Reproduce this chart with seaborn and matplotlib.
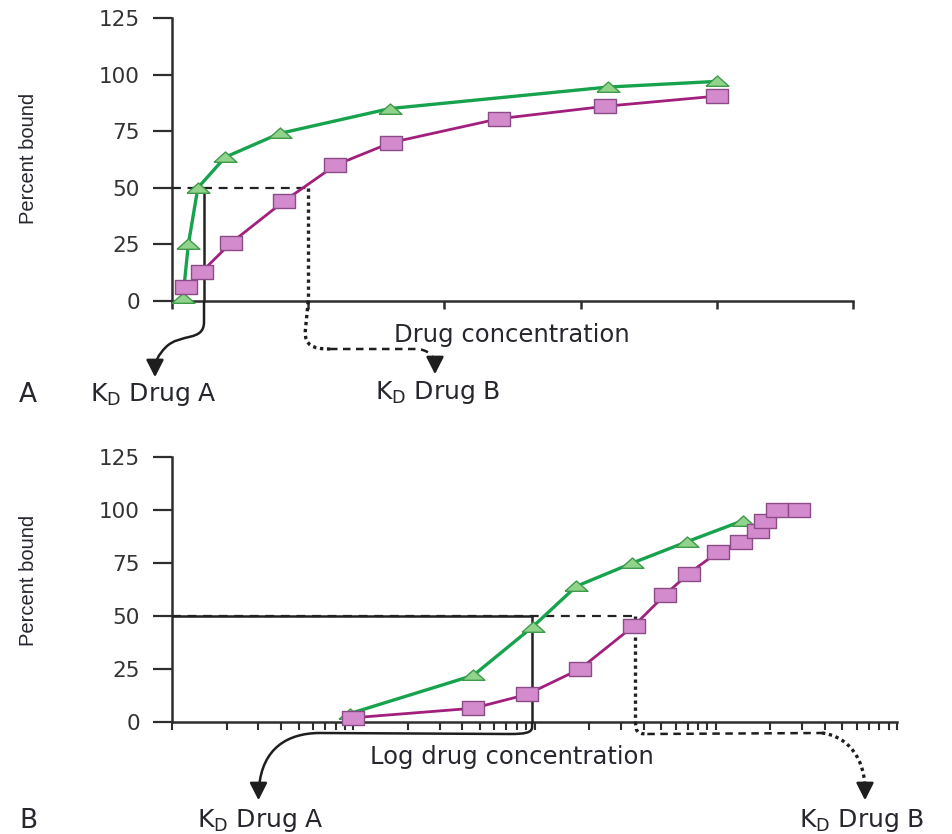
import matplotlib
matplotlib.use("Agg")
import matplotlib.pyplot as plt
import seaborn as sns
import pandas as pd
from matplotlib.path import Path
from matplotlib.patches import FancyArrowPatch, PathPatch
from matplotlib.ticker import LogLocator, NullFormatter, FixedLocator

# ---------------- data ----------------
lin_drug_a_conc = [0.8, 1.2, 1.9, 3.9, 7.9, 16, 32, 40]
lin_drug_a_bound = [1.5, 25, 50, 63.5, 74, 85, 94.5, 97]
lin_drug_b_conc = [1.0, 2.2, 4.3, 8.2, 12, 16.1, 24, 31.8, 40]
lin_drug_b_bound = [6, 13, 25.5, 44, 60, 70, 80.5, 86, 90.5]

log_drug_a_conc = [9.6, 46, 98, 170, 347, 692, 1413]
log_drug_a_bound = [4, 22, 45, 64, 75, 85, 95]
log_drug_b_conc = [10, 46, 91, 178, 355, 525, 708, 1023, 1380, 1700, 1862, 2188, 2884]
log_drug_b_bound = [2, 6.5, 13, 25, 45.5, 60, 70, 80, 85, 90, 95, 100, 100]

kd_lin = [2.35, 10.0]     # K_D drug A, K_D drug B (linear axis units)
kd_log = [97.0, 360.0]    # K_D drug A, K_D drug B (log axis units)
half_bound = 50
y_ticks = [0, 25, 50, 75, 100, 125]
lin_x_ticks = [0, 10, 20, 30, 40, 50]

# ---------------- style ----------------
sns.set_theme(style="ticks")
plt.rcParams["font.family"] = ["DejaVu Sans"]

W, H = 952, 834
fig = plt.figure(figsize=(W / 100, H / 100), dpi=100)
fig.patch.set_facecolor("white")

def fp(x, y):
    return (x / W, 1 - y / H)

GREEN = "#17a34e"
GREEN_FILL = "#8fd48a"
GREEN_EDGE = "#3f9a4c"
MAG = "#a21f7d"
MAG_FILL = "#d48bcd"
MAG_EDGE = "#8a4b86"
AX = "#2e2e2e"
TXT = "#26262e"

sq_marker = [(-1, -0.57), (1, -0.57), (1, 0.57), (-1, 0.57), (-1, -0.57)]
tri_marker = [(-1, -0.42), (1, -0.42), (0, 0.48), (-1, -0.42)]

ax1 = fig.add_axes([172 / W, 1 - 301 / H, (853 - 172) / W, (301 - 18) / H])
ax2 = fig.add_axes([172 / W, 1 - 722 / H, (897 - 172) / W, (722 - 457) / H])

def style_axis(ax):
    for s in ["top", "right"]:
        ax.spines[s].set_visible(False)
    for s in ["left", "bottom"]:
        ax.spines[s].set_color(AX)
        ax.spines[s].set_linewidth(1.8)
    ax.set_ylim(0, 125)
    ax.set_yticks(y_ticks)
    ax.set_yticklabels([str(v) for v in y_ticks])
    ax.tick_params(axis="y", length=14, width=1.6, color=AX, pad=9,
                   labelsize=15.5, labelcolor="#333333")
    ax.set_xlabel("")
    ax.set_ylabel("")
    ax.set_facecolor("white")
    ax.grid(False)

def draw_series(ax, x, y, line_c, fill_c, edge_c, marker, lw, z):
    df = pd.DataFrame({"conc": x, "bound": y})
    sns.lineplot(data=df, x="conc", y="bound", ax=ax, color=line_c, lw=lw,
                 marker=marker, markersize=16.5, markerfacecolor=fill_c,
                 markeredgecolor=edge_c, markeredgewidth=1.0, clip_on=False,
                 zorder=z, legend=False, errorbar=None)

# ---------------- panel A (linear) ----------------
ax1.set_xlim(0, 50)
draw_series(ax1, lin_drug_a_conc, lin_drug_a_bound, GREEN, GREEN_FILL, GREEN_EDGE, tri_marker, 2.4, 5)
draw_series(ax1, lin_drug_b_conc, lin_drug_b_bound, MAG, MAG_FILL, MAG_EDGE, sq_marker, 2.0, 6)
style_axis(ax1)
ax1.xaxis.set_major_locator(FixedLocator(lin_x_ticks))
ax1.set_xticklabels([])
ax1.tick_params(axis="x", length=6, width=1.8, color=AX)

ax1.plot([0, kd_lin[1]], [half_bound, half_bound], color="#222222", lw=1.6,
         ls=(0, (4, 3)), zorder=3)
ax1.plot([kd_lin[0], kd_lin[0]], [half_bound, 0], color="#222222", lw=1.8,
         zorder=4, clip_on=False)
ax1.plot([kd_lin[1], kd_lin[1]], [half_bound, 0], color="#222222", lw=2.4,
         ls=(0, (1, 1.1)), zorder=4, clip_on=False)

# ---------------- panel B (log) ----------------
ax2.set_xscale("log")
ax2.set_xlim(1, 1e4)
draw_series(ax2, log_drug_a_conc, log_drug_a_bound, GREEN, GREEN_FILL, GREEN_EDGE, tri_marker, 2.4, 5)
draw_series(ax2, log_drug_b_conc, log_drug_b_bound, MAG, MAG_FILL, MAG_EDGE, sq_marker, 2.0, 6)
style_axis(ax2)
ax2.set_xscale("log")
ax2.set_xlim(1, 1e4)
ax2.xaxis.set_major_locator(LogLocator(base=10, numticks=10))
ax2.xaxis.set_minor_locator(LogLocator(base=10, subs=range(2, 10), numticks=10))
ax2.xaxis.set_major_formatter(NullFormatter())
ax2.xaxis.set_minor_formatter(NullFormatter())
ax2.tick_params(axis="x", which="both", length=6, width=1.5, color=AX)

ax2.plot([1, kd_log[0]], [half_bound, half_bound], color="#222222", lw=1.8, zorder=3)
ax2.plot([1, kd_log[1]], [half_bound, half_bound], color="#222222", lw=1.6,
         ls=(0, (4, 3)), zorder=3)
ax2.plot([kd_log[0], kd_log[0]], [half_bound, 0], color="#222222", lw=1.8,
         zorder=4, clip_on=False)
ax2.plot([kd_log[1], kd_log[1]], [half_bound, 0], color="#222222", lw=2.4,
         ls=(0, (1, 1.1)), zorder=4, clip_on=False)

# ---------------- connectors below the axes ----------------
inv = fig.transFigure.inverted()

def kd_px(ax, xval):
    fx = inv.transform(ax.transData.transform((xval, 0)))[0]
    return fx * W

def arrow_head(x, y0, y1):
    a = FancyArrowPatch(fp(x, y0), fp(x, y1), transform=fig.transFigure,
                        arrowstyle="-|>,head_length=0.75,head_width=0.38",
                        mutation_scale=14, color="#1e1e1e", lw=1.8)
    fig.add_artist(a)

def curve(pts, codes, ls="-", lw=1.8):
    verts = [fp(*p) for p in pts]
    p = PathPatch(Path(verts, codes), transform=fig.transFigure, fill=False,
                  edgecolor="#1e1e1e", lw=lw, ls=ls, capstyle="butt")
    fig.add_artist(p)

M, L, C = Path.MOVETO, Path.LINETO, Path.CURVE4

# panel A, K_D drug A (solid S-curve)
xa = kd_px(ax1, kd_lin[0])
curve([(xa, 301), (xa, 322), (xa, 342), (180, 333), (166, 347),
       (158, 355), (155, 362), (155, 368)],
      [M, L, C, C, C, C, C, C])
arrow_head(155, 366, 380)

# panel A, K_D drug B (dotted/dashed)
xb = kd_px(ax1, kd_lin[1])
curve([(xb, 301), (xb - 3, 332), (xb - 3, 345), (312, 349), (330, 349)],
      [M, L, C, C, C], ls=(0, (1, 1.1)), lw=2.4)
curve([(330, 349), (415, 349), (428, 349), (434, 356), (435, 364)],
      [M, L, C, C, C], ls=(0, (3, 2.2)), lw=1.8)
arrow_head(435, 362, 377)

# panel B, K_D drug A (solid)
xa2 = kd_px(ax2, kd_log[0])
curve([(xa2, 722), (xa2, 727), (xa2, 733), (xa2 - 8, 734), (xa2 - 22, 734),
       (320, 733), (288, 733), (262, 748), (259, 788)],
      [M, L, C, C, C, L, C, C, C])
arrow_head(258.5, 786, 803)

# panel B, K_D drug B (dotted/dashed)
xb2 = kd_px(ax2, kd_log[1])
curve([(xb2, 722), (xb2 + 1, 729), (xb2 + 2, 733), (xb2 + 6, 734), (xb2 + 12, 734)],
      [M, L, C, C, C], ls=(0, (1, 1.1)), lw=2.4)
curve([(xb2 + 12, 734), (822, 733)], [M, L], ls=(0, (3, 2.2)), lw=1.8)
curve([(822, 733), (842, 735), (864, 752), (865, 788)], [M, C, C, C],
      ls=(0, (1, 1.1)), lw=2.4)
arrow_head(865, 786, 803)

# ---------------- text ----------------
ylab_font = ["Liberation Sans Narrow", "Liberation Sans"]
fig.text(*fp(28, 158), "Percent bound", rotation=90, ha="center", va="center",
         fontsize=14.5, color=TXT, family=ylab_font)
fig.text(*fp(28, 580), "Percent bound", rotation=90, ha="center", va="center",
         fontsize=14.5, color=TXT, family=ylab_font)

fig.text(*fp(512, 335), "Drug concentration", ha="center", va="center",
         fontsize=17.5, color=TXT)
fig.text(*fp(512, 757), "Log drug concentration", ha="center", va="center",
         fontsize=17.5, color=TXT)

fig.text(*fp(28, 395), "A", ha="center", va="center", fontsize=19, color=TXT)
fig.text(*fp(28, 821), "B", ha="center", va="center", fontsize=19, color=TXT)

kd_a = r"K$_\mathregular{D}$ Drug A"
kd_b = r"K$_\mathregular{D}$ Drug B"
fig.text(*fp(153, 395), kd_a, ha="center", va="center", fontsize=18, color=TXT)
fig.text(*fp(438, 393), kd_b, ha="center", va="center", fontsize=18, color=TXT)
fig.text(*fp(260, 820), kd_a, ha="center", va="center", fontsize=18, color=TXT)
fig.text(*fp(862, 820), kd_b, ha="center", va="center", fontsize=18, color=TXT)

fig.savefig("out.png", dpi=100, facecolor="white")
